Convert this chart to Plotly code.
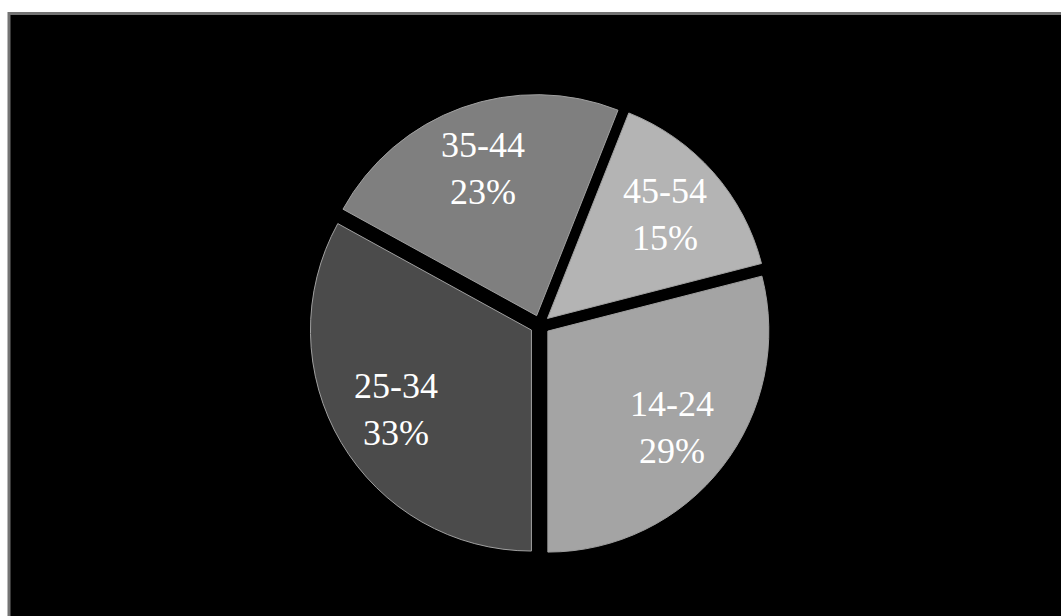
import math
import plotly.graph_objects as go

# ---- data ----
labels = ["14-24", "25-34", "35-44", "45-54"]
shares = [29, 33, 23, 15]
slice_colors = ["#a4a4a4", "#4b4b4b", "#7f7f7f", "#b4b4b4"]

W, H = 1061, 616
dom_x = [0.2913, 0.7266]
dom_y = [0.0975, 0.8473]
pull = 0.045
rotation = 75.6  # start of first slice, clockwise from 12 o'clock

fig = go.Figure(go.Pie(
    labels=labels,
    values=shares,
    sort=False,
    direction="clockwise",
    rotation=rotation,
    pull=pull,
    marker=dict(colors=slice_colors, line=dict(color="#a0a0a0", width=1)),
    textinfo="none",
    hoverinfo="label+percent",
    showlegend=False,
    domain=dict(x=dom_x, y=dom_y),
))

# pie geometry as plotly computes it (margins are zero)
bw = W * (dom_x[1] - dom_x[0])
bh = H * (dom_y[1] - dom_y[0])
r = min(bw, bh) / (2 + 2 * pull)
cx = W * (dom_x[0] + dom_x[1]) / 2
cy = H * (1 - (dom_y[0] + dom_y[1]) / 2)
total = sum(shares)
text_r = 0.71 * r + pull * r

ang = rotation
for lab, v in zip(labels, shares):
    span = 360 * v / total
    mid = math.radians(ang + span / 2)
    px = cx + text_r * math.sin(mid)
    py = cy - text_r * math.cos(mid)
    fig.add_annotation(
        x=px / W, y=1 - py / H, xref="paper", yref="paper",
        text=f"{lab}<br>{round(100 * v / total)}%",
        showarrow=False, xanchor="center", yanchor="middle",
        font=dict(family="Liberation Serif, Times New Roman, serif", size=36, color="white"),
    )
    ang += span

# black panel with grey frame, offset from the top-left corner
fig.add_shape(
    type="rect", xref="paper", yref="paper", layer="below",
    x0=9 / W, x1=1.05, y0=-0.05, y1=1 - 13.5 / H,
    fillcolor="black", line=dict(color="#737373", width=3),
)

fig.update_layout(
    width=W, height=H,
    margin=dict(l=0, r=0, t=0, b=0),
    paper_bgcolor="white",
    plot_bgcolor="black",
)

fig.write_html("out.html")
